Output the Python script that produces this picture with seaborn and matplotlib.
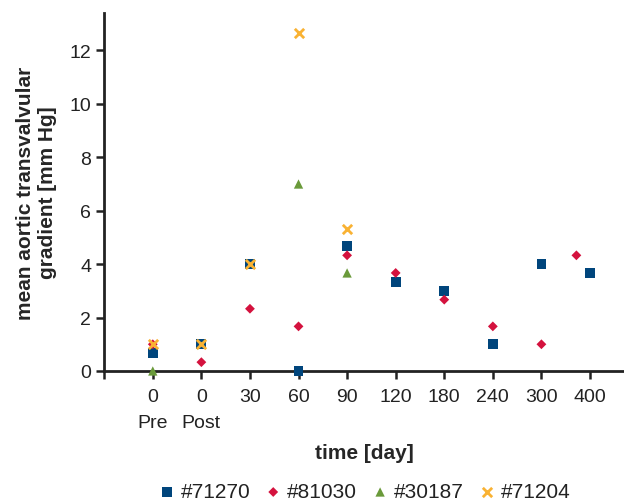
import numpy as np
import pandas as pd
import seaborn as sns
import matplotlib.pyplot as plt

# x axis categories (two baseline measurements at day 0, then days)
tick_labels = ['0\nPre', '0\nPost', '30', '60', '90', '120', '180', '240', '300', '400']
tick_days = [30, 60, 90, 120, 180, 240, 300, 400]

# mean aortic transvalvular gradient [mm Hg] per animal
blue_days = ['Pre', 'Post', 30, 60, 90, 120, 180, 240, 300, 400]
blue_vals = [0.67, 1.0, 4.0, 0.0, 4.67, 3.33, 3.0, 1.0, 4.0, 3.67]

red_days = ['Pre', 'Post', 30, 60, 90, 120, 180, 240, 300, 372]
red_vals = [1.0, 0.33, 2.33, 1.67, 4.33, 3.67, 2.67, 1.67, 1.0, 4.33]

green_days = ['Pre', 60, 90]
green_vals = [0.0, 7.0, 3.67]

orange_days = ['Pre', 'Post', 30, 60, 90]
orange_vals = [1.0, 1.0, 4.0, 12.67, 5.33]

animals = ['#71270', '#81030', '#30187', '#71204']
colors = ['#00457c', '#d4123e', '#6a9a3a', '#f9b233']
markers = ['s', 'D', '^', 'x']
sizes = [50, 25, 45, 45]


def to_pos(d):
    # map a day value onto the category axis
    if d == 'Pre':
        return 0.0
    if d == 'Post':
        return 1.0
    return float(np.interp(d, tick_days, np.arange(2, 2 + len(tick_days))))


rows = []
for name, days, vals in zip(animals,
                            [blue_days, red_days, green_days, orange_days],
                            [blue_vals, red_vals, green_vals, orange_vals]):
    for d, v in zip(days, vals):
        rows.append({'animal': name, 'pos': to_pos(d), 'gradient': v})
df = pd.DataFrame(rows)

sns.set_style('ticks')
plt.rcParams['font.family'] = ['Liberation Sans', 'DejaVu Sans']

fig = plt.figure(figsize=(6.24, 5.02), dpi=100)
ax = fig.add_axes([0.167, 0.259, 0.833, 0.713])

for name, col, mk, sz in zip(animals, colors, markers, sizes):
    sub = df[df['animal'] == name]
    kw = dict(linewidth=2.0) if mk == 'x' else dict(edgecolor='none')
    sns.scatterplot(data=sub, x='pos', y='gradient', ax=ax, color=col,
                    marker=mk, s=sz, label=name, zorder=3, legend=False,
                    clip_on=False, **kw)

ax.set_xlim(-1, 9.7)
ax.set_ylim(0, 13.4)
ax.set_yticks(range(0, 13, 2))
ax.set_xticks(np.arange(-1, 10))
ax.set_xticklabels([''] + tick_labels, linespacing=1.75)
ax.tick_params(axis='both', colors='#222222', labelcolor='#222222',
               width=1.8, length=6, labelsize=14)
ax.tick_params(axis='x', pad=6)
for side in ['left', 'bottom']:
    ax.spines[side].set_linewidth(2)
    ax.spines[side].set_color('#222222')
sns.despine(ax=ax)

ax.set_xlabel('time [day]', fontweight='bold', fontsize=15, labelpad=8)
ax.set_ylabel('mean aortic transvalvular\ngradient [mm Hg]', fontweight='bold',
              fontsize=15, labelpad=9)

handles = ax.collections
fig.legend(handles, animals, loc='center', bbox_to_anchor=(0.584, 0.018), ncol=4,
           frameon=False, handletextpad=0.27, columnspacing=0.7, handlelength=0.8,
           fontsize=15, markerscale=1.0, labelcolor='#222222')

fig.savefig('out.png', dpi=100)
